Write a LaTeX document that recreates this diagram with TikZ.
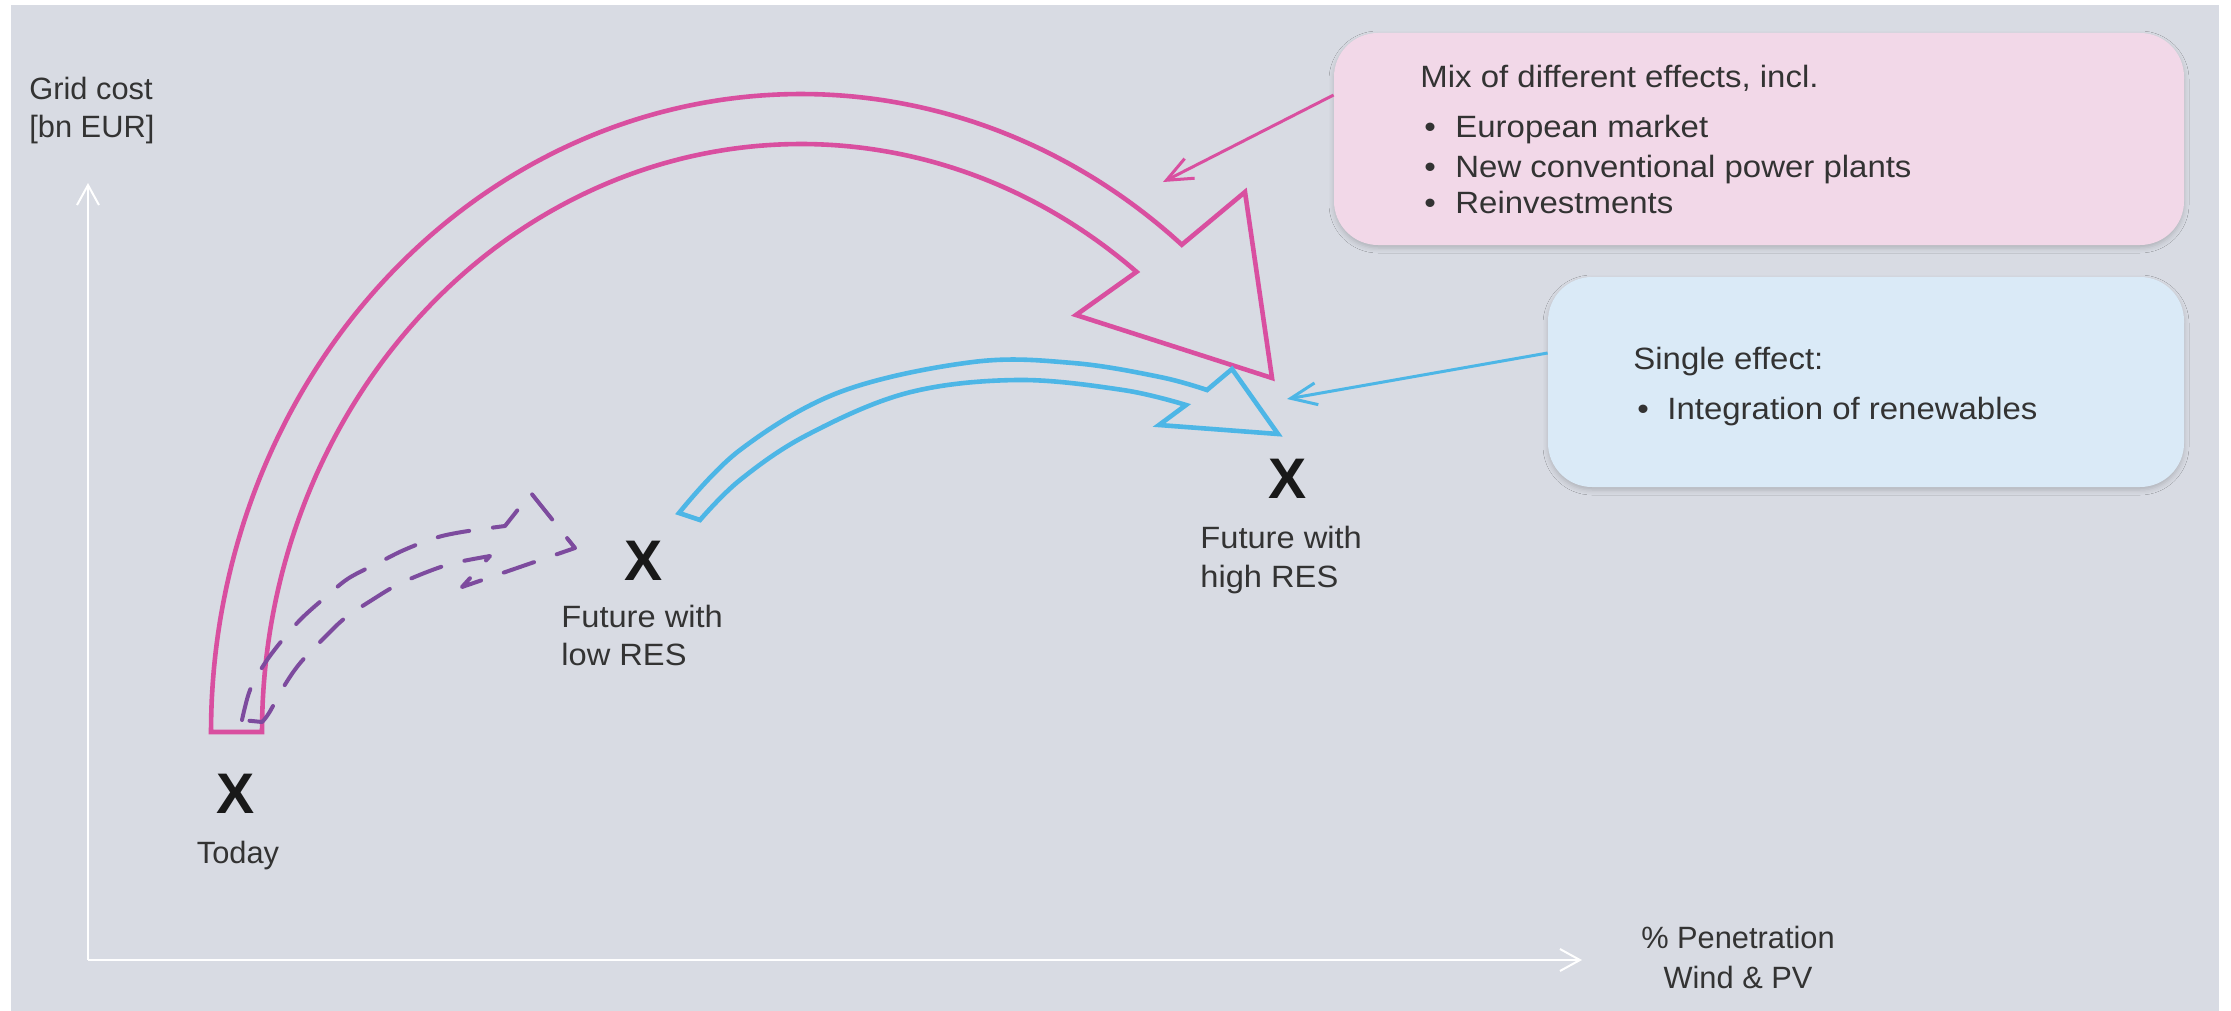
\documentclass[tikz,border=0pt]{standalone}
\usepackage{fontspec}
\setmainfont{Liberation Sans}
\newfontfamily\boxfont[FakeStretch=1.07]{Liberation Sans}
\newfontfamily\lblwide[FakeStretch=1.06]{Liberation Sans}
\usetikzlibrary{arrows.meta,shadows.blur}
\definecolor{bgc}{HTML}{D8DBE3}
\definecolor{pinkc}{HTML}{D94FA0}
\definecolor{bluec}{HTML}{4DB6E6}
\definecolor{purplec}{HTML}{7D4B9E}
\definecolor{pinkfill}{HTML}{F2D8E8}
\definecolor{bluefill}{HTML}{DAEAF7}
\definecolor{txtc}{HTML}{333333}
\begin{document}
\begin{tikzpicture}[x=0.5pt,y=-0.5pt,
  lbl/.style={inner sep=0pt, text=txtc, font=\fontsize{15.4}{19}\selectfont},
  wlbl/.style={inner sep=0pt, text=txtc, font=\lblwide\fontsize{15.4}{19}\selectfont},
  btxt/.style={inner sep=0pt, text=txtc, font=\boxfont\fontsize{15.4}{19}\selectfont},
  xmark/.style={inner sep=0pt, text=black!90, font=\fontsize{28.6}{30}\selectfont\bfseries},
  axisline/.style={draw=white, line width=1pt, -{Straight Barb[length=10pt,width=11pt]}},
  bigarrow/.style={line width=2.3pt, line join=miter},
  purpledash/.style={draw=purplec, line width=2pt, dash pattern=on 16pt off 12pt, line cap=round, line join=round},
  effectbox/.style={rounded corners=22pt, inner sep=0pt, blur shadow={shadow xshift=0pt, shadow yshift=-1.5pt, shadow blur radius=2.5pt, shadow opacity=18}},
  ptr/.style={line width=1.5pt, -{Straight Barb[length=13pt,width=11pt]}}]
\useasboundingbox (0,0) rectangle (2231,1011);
\fill[bgc] (11,5) rectangle (2219,1011);

% axes
\coordinate (origin) at (88,960);
\coordinate (ytip) at (88,183);
\coordinate (xtip) at (1582,960);
\draw[axisline] (origin) -- (ytip);
\draw[axisline] (origin) -- (xtip);
\node[lbl, anchor=base west] (ylab1) at (29,99) {Grid cost};
\node[lbl, anchor=base west] (ylab2) at (29,137) {[bn EUR]};
\node[lbl, anchor=base] (xlab1) at (1738,948) {\% Penetration};
\node[lbl, anchor=base] (xlab2) at (1738,988) {Wind \& PV};

% pink big arrow (elliptic band)
\draw[bigarrow, draw=pinkc]
  plot[domain=180:310.2, samples=90, smooth] ({801+590*cos(\x)}, {732+638*sin(\x)})
  -- (1245,192) -- (1272,378) -- (1076,315)
  -- plot[domain=308.5:180, samples=90, smooth] ({801+539*cos(\x)}, {732+588*sin(\x)})
  -- cycle;

% blue arrow
\draw[bigarrow, draw=bluec]
  plot[smooth, tension=0.6] coordinates {(679,513) (740,450) (840,392) (973,362) (1073,363) (1160,377) (1207,390)}
  -- (1232,369) -- (1278,434) -- (1159,425) -- (1186,405)
  -- plot[smooth, tension=0.6] coordinates {(1186,405) (1123,390) (1017,380) (907,393) (807,435) (740,480) (700,520)}
  -- cycle;

% purple dashed arrow
\draw[purpledash]
  plot[smooth, tension=0.55] coordinates {(242,720) (250,690) (265,663) (284,638) (303,617) (328,595) (349,578) (380,562) (404,550) (435,538) (462,532) (505,526)}
  -- (531,493) -- (575,548) -- (462,587) -- (490,556)
  -- plot[smooth, tension=0.55] coordinates {(490,556) (454,563) (427,572) (397,585) (372,600) (345,618) (324,638) (301,662) (286,683) (269,713) (262,722)}
  -- cycle;

% X marks and labels
\node[xmark, anchor=base] (today) at (236,813) {X};
\node[lbl, anchor=base] (todaylab) at (238,863) {Today};
\node[xmark, anchor=base] (lowres) at (644,580) {X};
\node[wlbl, anchor=base west] (lowlab1) at (561,627) {Future with};
\node[wlbl, anchor=base west] (lowlab2) at (561,665) {low RES};
\node[xmark, anchor=base] (highres) at (1288,498) {X};
\node[wlbl, anchor=base west] (highlab1) at (1200,548) {Future with};
\node[wlbl, anchor=base west] (highlab2) at (1200,587) {high RES};

% effect boxes
\node[effectbox, fill=pinkfill, minimum width=425pt, minimum height=106pt] (pinkbox) at (1759,139) {};
\node[effectbox, fill=bluefill, minimum width=318pt, minimum height=105pt] (bluebox) at (1866,382) {};

\node[btxt, anchor=base west] (mixt) at (1420,88) {Mix of different effects, incl.};
\node[btxt, anchor=base] (b1) at (1430,138) {\textbullet};
\node[btxt, anchor=base west] (i1) at (1455,138) {European market};
\node[btxt, anchor=base] (b2) at (1430,177) {\textbullet};
\node[btxt, anchor=base west] (i2) at (1455,177) {New conventional power plants};
\node[btxt, anchor=base] (b3) at (1430,213) {\textbullet};
\node[btxt, anchor=base west] (i3) at (1455,213) {Reinvestments};

\node[btxt, anchor=base west] (singt) at (1633,369) {Single effect:};
\node[btxt, anchor=base] (b4) at (1643,419) {\textbullet};
\node[btxt, anchor=base west] (i4) at (1667,419) {Integration of renewables};

% pointers
\coordinate (pk) at (0,95);
\coordinate (bk) at (0,353);
\coordinate (pinktarget) at (1163,182);
\coordinate (bluetarget) at (1287,399);
\draw[ptr, draw=pinkc] (pinkbox.west |- pk) -- (pinktarget);
\draw[ptr, draw=bluec] (bluebox.west |- bk) -- (bluetarget);
\end{tikzpicture}
\end{document}
